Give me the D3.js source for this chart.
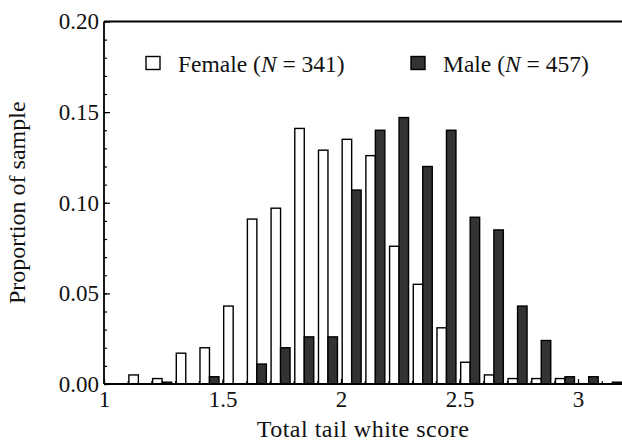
<!DOCTYPE html>
<html>
<head>
<meta charset="utf-8">
<script src="https://cdn.jsdelivr.net/npm/d3@7"></script>
<style>
  body { margin: 0; background: #fff; }
  svg text { font-family: "Liberation Serif", "Times New Roman", serif; fill: #111; }
</style>
</head>
<body>
<svg id="chart" width="622" height="441"></svg>
<script>
// bin start of each 0.1-wide class of the score
const bins = [1.1, 1.2, 1.3, 1.4, 1.5, 1.6, 1.7, 1.8, 1.9, 2.0, 2.1, 2.2, 2.3, 2.4, 2.5, 2.6, 2.7, 2.8, 2.9, 3.0, 3.1];
const female = [0.005, 0.003, 0.017, 0.020, 0.043, 0.091, 0.097, 0.141, 0.129, 0.135, 0.126, 0.076, 0.055, 0.031, 0.012, 0.005, 0.003, 0.003, 0.003, 0, 0];
const male = [0, 0.001, 0, 0.004, 0, 0.011, 0.020, 0.026, 0.026, 0.107, 0.140, 0.147, 0.120, 0.140, 0.092, 0.085, 0.043, 0.024, 0.004, 0.004, 0.001];
const xTicks = [1, 1.5, 2, 2.5, 3];
const yTicks = [0, 0.05, 0.10, 0.15, 0.20];
const legendLabels = [{ name: "Female", n: 341 }, { name: "Male", n: 457 }];

const svg = d3.select("#chart");
const mLeft = 104, mTop = 21.5, mBottom = 384;

let x = d3.scaleLinear().domain([1, 3.2]).range([mLeft, mLeft + 2.2 * 237]);
let y = d3.scaleLinear().domain([0, 0.2]).range([mBottom, mTop]);

// bars: female on the left half of each bin, male right next to it
const barW = 0.04;
const series = [
  { vals: female, off: 0.005, fill: "#fff" },
  { vals: male, off: 0.045, fill: "#333" }
];
series.forEach(s => {
  svg.append("g").selectAll("rect")
    .data(bins.map((b, i) => ({ b: b, v: s.vals[i] })).filter(d => d.v > 0))
    .join("rect")
    .attr("x", d => x(d.b + s.off))
    .attr("width", d => x(d.b + s.off + barW) - x(d.b + s.off))
    .attr("y", d => y(d.v))
    .attr("height", d => y(0) - y(d.v))
    .attr("fill", s.fill)
    .attr("stroke", "#000")
    .attr("stroke-width", 1.4);
});

// y axis, ticks pointing inward
let yMinor = d3.axisLeft(y).ticks(20).tickSize(-3).tickFormat("");
svg.append("g").attr("transform", `translate(${mLeft},0)`).call(yMinor)
  .call(g => g.select(".domain").remove());
let yAxis = d3.axisLeft(y).tickValues(yTicks).tickSize(-6).tickPadding(5).tickFormat(d3.format(".2f"));
svg.append("g").attr("class", "yaxis").attr("transform", `translate(${mLeft},0)`).call(yAxis);

// x axis
let xMinor = d3.axisBottom(x).tickValues(d3.range(10, 32).map(d => d / 10)).tickSize(-3).tickFormat("");
svg.append("g").attr("transform", `translate(0,${mBottom})`).call(xMinor)
  .call(g => g.select(".domain").remove());
let xAxis = d3.axisBottom(x).tickValues(xTicks).tickSize(-5).tickPadding(7).tickFormat(d3.format(""));
svg.append("g").attr("class", "xaxis").attr("transform", `translate(0,${mBottom})`).call(xAxis);

svg.selectAll(".domain").attr("stroke-width", 1.8);
svg.selectAll(".xaxis .domain").attr("d", `M${mLeft},0H622`);
svg.selectAll(".yaxis .domain").attr("d", `M0,${mTop}V${mBottom}`);
svg.selectAll(".tick line").attr("stroke-width", 1.2);
svg.selectAll(".tick text").style("font-size", "23px").attr("fill", "#111");

// top frame line
svg.append("line")
  .attr("x1", mLeft).attr("x2", 622)
  .attr("y1", mTop).attr("y2", mTop)
  .attr("stroke", "#000").attr("stroke-width", 1.8);

// legend
const legX = [146, 411];
legendLabels.forEach((d, i) => {
  svg.append("rect")
    .attr("x", legX[i]).attr("y", 56.5)
    .attr("width", 14).attr("height", 13)
    .attr("fill", series[i].fill)
    .attr("stroke", "#000").attr("stroke-width", 1.4);
  let t = svg.append("text")
    .attr("x", legX[i] + 32).attr("y", 72)
    .style("font-size", "23.5px");
  t.append("tspan").text(d.name + " (");
  t.append("tspan").style("font-style", "italic").text("N");
  t.append("tspan").text(" = " + d.n + ")");
});

// axis titles
svg.append("text")
  .attr("x", 363).attr("y", 437)
  .attr("text-anchor", "middle")
  .style("font-size", "24px")
  .style("letter-spacing", "0.5px")
  .text("Total tail white score");

svg.append("text")
  .attr("transform", `translate(25,${(mTop + mBottom) / 2}) rotate(-90)`)
  .attr("text-anchor", "middle")
  .style("font-size", "24px")
  .text("Proportion of sample");
</script>
</body>
</html>
